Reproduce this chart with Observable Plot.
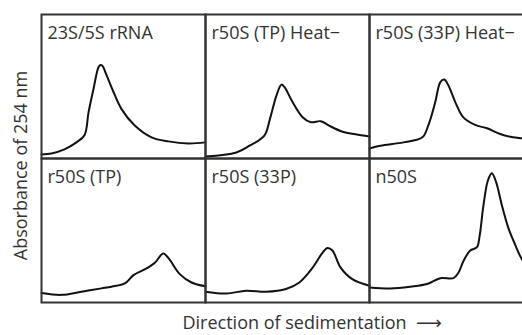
<!DOCTYPE html>
<html><head><meta charset="utf-8">
<script src="https://cdn.jsdelivr.net/npm/d3@7"></script>
<script src="https://cdn.jsdelivr.net/npm/@observablehq/plot@0.6"></script>
<style>html,body{margin:0;padding:0;overflow:hidden;background:#fff} svg{max-width:none !important}</style>
</head><body><div id="chart"></div>
<script>
const panelTitles = ["23S/5S rRNA", "r50S (TP) Heat−", "r50S (33P) Heat−", "r50S (TP)", "r50S (33P)", "n50S"];
const panelCol = [0, 1, 2, 0, 1, 2];
const panelRow = [0, 0, 0, 1, 1, 1];
const yLabel = "Absorbance of 254 nm";
const xLabel = "Direction of sedimentation  ⟶";

// [position along gradient (% of panel), absorbance (% of panel height)]
const rrna = [[0,2.8],[6.1,3.5],[14,6.3],[21.3,11.2],[26.2,16.1],[28.7,32.2],[31.7,48.3],[34.8,63.6],[36,65],[37.2,64.3],[39.6,58],[43.9,46.2],[48.8,34.3],[56.7,23.1],[67.1,14.7],[77.4,11.9],[89.6,10.5],[100,11.2]];
const tpHeat = [[0,1.4],[18.8,4.2],[26.9,8.9],[35.9,15.9],[39.3,27.5],[43.3,43.8],[46.3,51.3],[48.1,49.7],[53.1,39.2],[59.2,28.7],[64.2,25.2],[70.3,25.9],[75.4,22.8],[83.6,18.6],[91.5,16.8],[100,15.2]];
const p33Heat = [[0,7],[6.7,8.9],[20.7,11.2],[32.2,14.7],[35.9,23.1],[40.1,39.2],[43.2,53.1],[45.6,54.8],[48,51],[52.3,39.2],[57.1,28.7],[64.4,23.3],[71.7,21],[79.6,17],[87.5,14.7],[93,14],[100,13]];
const tp = [[0,6.6],[12.2,5.3],[24.4,7.5],[36.6,9.8],[42.7,11],[50.8,13.2],[56.1,19],[63.2,23.1],[69.1,27.6],[74.2,34],[77.3,31],[84.3,19.7],[91.5,13.9],[100,11.3]];
const p33 = [[0,7.5],[12.7,6.2],[24.8,8.2],[37,7.5],[49.1,9.4],[57.2,13.9],[65.3,24.2],[71.3,34.5],[74.4,37.9],[77.4,36.1],[82.4,24.2],[89.5,16.2],[100,11.6]];
const n50s = [[0,10.5],[12.8,9.8],[24.9,11],[35.1,12.8],[43.2,16.9],[51.2,16.9],[54.3,20.8],[57.3,28.8],[61.4,36.1],[65.5,38.4],[67.1,45.9],[69.5,67.6],[72.2,84.7],[74.6,89.7],[77.2,83.6],[80.7,67.6],[84.7,51.6],[88.8,40.2],[93,29.9],[100,20]];

const profiles = [rrna, tpHeat, p33Heat, tp, p33, n50s];
const data = profiles.flatMap((pts, i) => pts.map(([x, y]) => ({panel: panelTitles[i], col: panelCol[i], row: panelRow[i], x, y})));
const titles = panelTitles.map((t, i) => ({title: t, col: panelCol[i], row: panelRow[i]}));

const plot = Plot.plot({
  width: 534, height: 335,
  marginLeft: 40, marginRight: 0, marginTop: 13, marginBottom: 33,
  style: {fontFamily: "'Open Sans', 'DejaVu Sans', sans-serif", background: "#fff", color: "#333", maxWidth: "none"},
  fx: {axis: null, padding: 0, domain: [0, 1, 2]},
  fy: {axis: null, padding: 0, domain: [0, 1]},
  x: {axis: null, domain: [0, 100]},
  y: {axis: null, domain: [0, 100]},
  marks: [
    Plot.line(data, {x: "x", y: "y", fx: "col", fy: "row", z: "panel", stroke: "#111", strokeWidth: 2, curve: "catmull-rom"}),
    Plot.frame({stroke: "#333", strokeWidth: 2}),
    Plot.text(titles, {fx: "col", fy: "row", text: "title", frameAnchor: "top-left", textAnchor: "start", lineAnchor: "top", dx: 6, dy: 12, fontSize: 18, fill: "#333"}),
    Plot.text([yLabel], {fx: () => 0, fy: () => 1, text: d => d, frameAnchor: "top-left", textAnchor: "middle", lineAnchor: "middle", rotate: -90, dx: -20, dy: 7, fontSize: 18, fill: "#333"}),
    Plot.text([xLabel], {fx: () => 1, fy: () => 1, text: d => d, frameAnchor: "bottom-left", textAnchor: "start", lineAnchor: "middle", dx: -23, dy: 21, fontSize: 18, fill: "#333"})
  ]
});
document.getElementById("chart").appendChild(plot);
</script>
</body></html>
